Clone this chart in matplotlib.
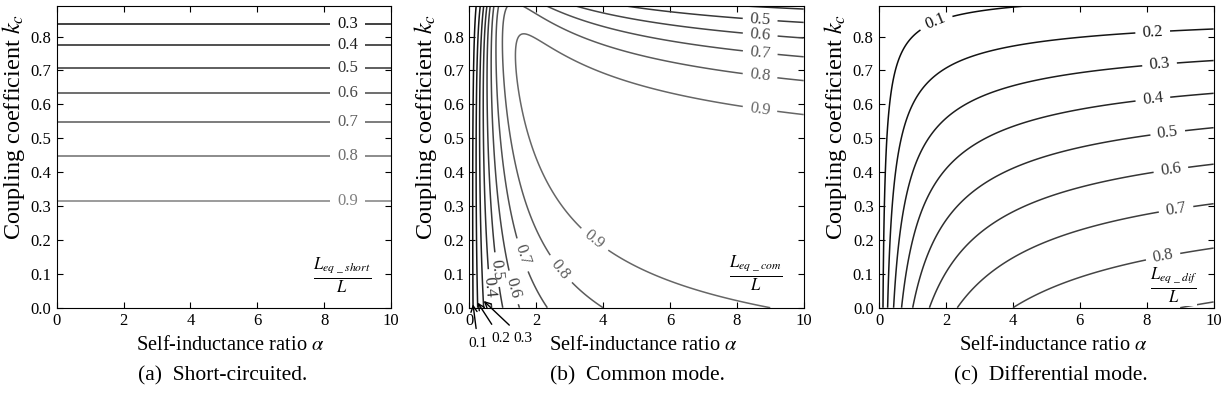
import numpy as np
import matplotlib
matplotlib.use('Agg')
import matplotlib.pyplot as plt

plt.rcParams['font.family'] = 'serif'
plt.rcParams['font.serif'] = ['Liberation Serif', 'DejaVu Serif']
plt.rcParams['mathtext.fontset'] = 'stix'

# axes ranges and contour levels
alpha_range = [0, 10]
kc_range = [0, 0.89]
levels_short = [0.3, 0.4, 0.5, 0.6, 0.7, 0.8, 0.9]
levels_com = [0.1, 0.2, 0.3, 0.4, 0.5, 0.6, 0.7, 0.8, 0.9]
levels_dif = [0.1, 0.2, 0.3, 0.4, 0.5, 0.6, 0.7, 0.8, 0.9]
xticks = [0, 2, 4, 6, 8, 10]
yticks = [0.0, 0.1, 0.2, 0.3, 0.4, 0.5, 0.6, 0.7, 0.8]
captions = ['(a)  Short-circuited.', '(b)  Common mode.', '(c)  Differential mode.']
m_fit = 0.97  # effective mutual factor

a = np.linspace(alpha_range[0], alpha_range[1], 600)
k = np.linspace(kc_range[0], kc_range[1], 600)
A, K = np.meshgrid(a, k)

# L1 = L, L2 = a L, M = k sqrt(a) L
L_short = 1 - K**2 + 0 * A
L_com = A * (1 - K**2) / (1 + A - 2 * m_fit * K * np.sqrt(A))
L_dif = A * (1 - K**2) / (1 + A + 2 * K * np.sqrt(A))

def grays(levels, lo=0.05, hi=0.5):
    return [str(lo + (hi - lo) * i / (len(levels) - 1)) for i in range(len(levels))]

def draw(ax, Z, levels, cols, labeled, pos):
    plain = [l for l in levels if l not in labeled]
    cmap = dict(zip(levels, cols))
    if plain:
        ax.contour(A, K, Z, levels=plain, colors=[cmap[l] for l in plain], linewidths=1.1)
    cs = ax.contour(A, K, Z, levels=labeled, colors=[cmap[l] for l in labeled], linewidths=1.1)
    ax.clabel(cs, manual=pos, inline=True, fontsize=12, fmt='%.1f', inline_spacing=7)

fig = plt.figure(figsize=(12.27, 4.16), dpi=100)
lefts = [0.0462, 0.3825, 0.7166]
axs = [fig.add_axes([l, 0.2603, 0.2725, 0.7253]) for l in lefts]

for ax in axs:
    ax.set_xlim(alpha_range)
    ax.set_ylim(kc_range)
    ax.set_xticks(xticks)
    ax.set_yticks(yticks)
    ax.set_yticklabels(['%.1f' % v for v in yticks])
    ax.tick_params(direction='in', top=True, right=True, labelsize=12, length=4, pad=4)
    ax.set_xlabel(r'Self-inductance ratio $\alpha$', fontsize=14.7)
    ax.set_ylabel(r'Coupling coefficient $k_c$', fontsize=17.5)
    ax.xaxis.set_label_coords(0.52, -0.095)
    ax.yaxis.set_label_coords(-0.09, 0.6)

# (a) short-circuited
pos_a = [(8.7, np.sqrt(1 - v)) for v in levels_short]
draw(axs[0], L_short, levels_short, grays(levels_short, 0.05, 0.5), levels_short, pos_a)
axs[0].text(8.55, 0.094, r'$\frac{L_{eq\ \_\ short}}{L}$', fontsize=17, ha='center', va='center')

# (b) common mode
pos_b = [(8.7, 0.853), (8.7, 0.806), (8.7, 0.752), (8.7, 0.689), (8.7, 0.591),
         (3.81, 0.209), (2.76, 0.116), (1.57, 0.155), (1.22, 0.057), (0.72, 0.111), (0.57, 0.062)]
draw(axs[1], L_com, levels_com, grays(levels_com, 0.05, 0.4), levels_com[3:], pos_b)
axs[1].text(8.57, 0.10, r'$\frac{L_{eq\ \_\ com}}{L}$', fontsize=17, ha='center', va='center')
arrows = [('0.1', (0.11, 0.01), (0.26, -0.105)),
          ('0.2', (0.25, 0.015), (0.94, -0.09)),
          ('0.3', (0.43, 0.02), (1.61, -0.09))]
for txt, tip, tpos in arrows:
    axs[1].annotate(txt, xy=tip, xytext=tpos, fontsize=11, ha='center', va='center',
                    annotation_clip=False,
                    arrowprops=dict(arrowstyle='->', color='black', lw=1.0, shrinkA=4, shrinkB=0))

# (c) differential mode
pos_c = [(1.71, 0.839), (8.18, 0.809), (8.38, 0.721), (8.18, 0.618), (8.63, 0.514),
         (8.73, 0.401), (8.88, 0.288), (8.48, 0.155)]
draw(axs[2], L_dif, levels_dif, grays(levels_dif, 0.05, 0.3), levels_dif[:8], pos_c)
axs[2].text(8.8, 0.065, r'$\frac{L_{eq\ \_\ dif}}{L}$', fontsize=17, ha='center', va='center',
            bbox=dict(facecolor='white', edgecolor='none', pad=0))

centers = [223, 637, 1051]
for c, cap in zip(centers, captions):
    fig.text(c / 1227, 1 - 376 / 416, cap, fontsize=15.5, ha='center', va='center')

fig.savefig('out.png', dpi=100)
